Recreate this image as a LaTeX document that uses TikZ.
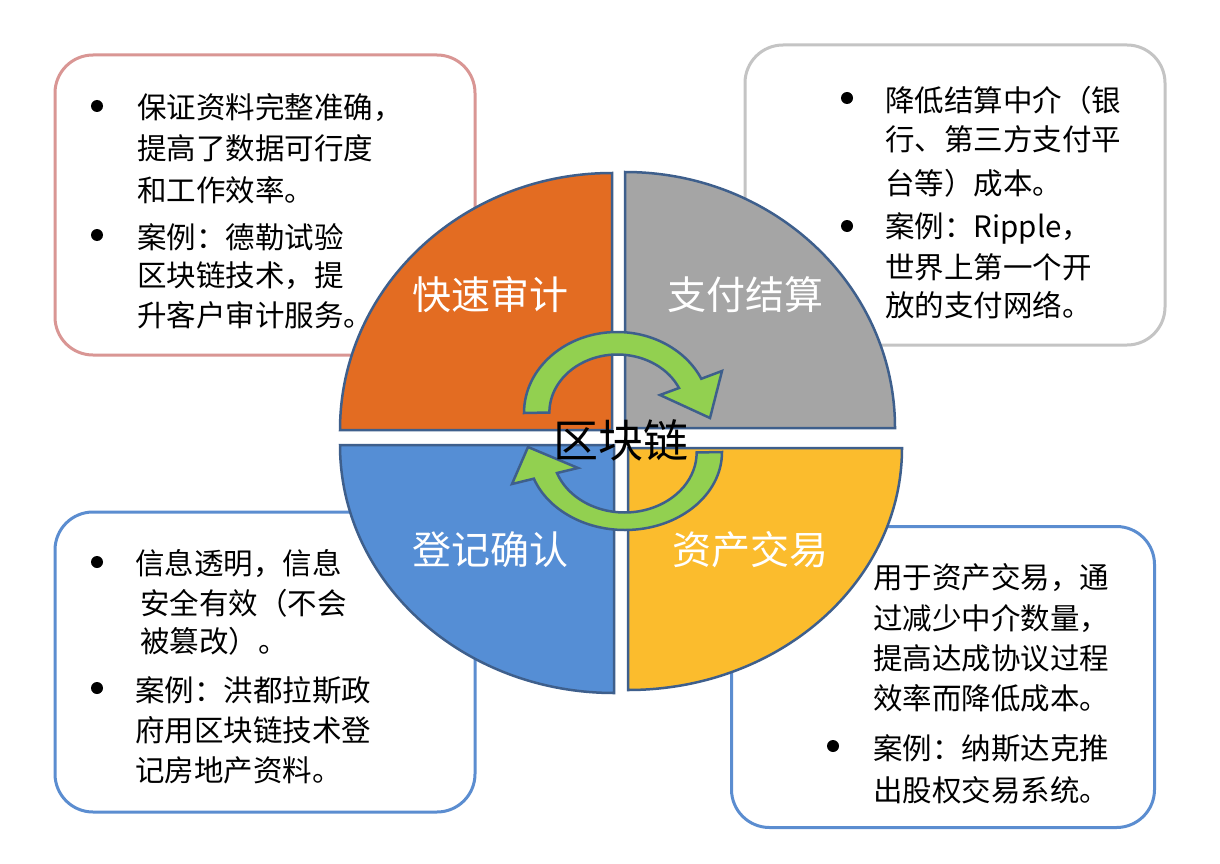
\documentclass[tikz,border=0pt]{standalone}
\usepackage{fontspec}
\setmainfont{Noto Sans CJK SC}
\begin{document}
\begin{tikzpicture}[x=1pt,y=1pt,
  box/.style={draw,line width=3pt,rounded corners=38pt,fill=white},
  quad/.style={draw=qline,line width=2.5pt},
  grn/.style={draw=qline,line width=2.5pt,fill=agreen},
  txt/.style={anchor=west,inner sep=0pt,font=\fontsize{29.5}{29.5}\selectfont},
  lab/.style={text=white,inner sep=0pt,font=\fontsize{39}{39}\selectfont},
  bul/.style={fill=black,circle,inner sep=0pt,minimum size=12pt}]
\definecolor{qline}{HTML}{3E5F8C}
\definecolor{agreen}{HTML}{92D050}
\definecolor{cor}{HTML}{E36C22}
\definecolor{cgr}{HTML}{A5A5A5}
\definecolor{cbl}{HTML}{558ED5}
\definecolor{cye}{HTML}{FBBC2D}
\definecolor{bpink}{HTML}{D99694}
\definecolor{bgray}{HTML}{C4C4C4}
\definecolor{bblue}{HTML}{5B8DD0}
\useasboundingbox (0,0) rectangle (1220,-864);
\fill[white] (0,0) rectangle (1220,-864);
% boxes
\node[box,draw=bpink,minimum width=420pt,minimum height=300pt] (b1) at (265,-205) {};
\node[box,draw=bgray,minimum width=420pt,minimum height=300pt] (b2) at (955,-195) {};
\node[box,draw=bblue,minimum width=420pt,minimum height=300pt] (b3) at (265,-662) {};
\node[box,draw=bblue,minimum width=423pt,minimum height=301pt] (b4) at (943,-677) {};
% quadrants
\draw[quad,fill=cor] (612,-430) -- (340,-430) arc[start angle=180,end angle=90,x radius=272,y radius=257] -- cycle;
\draw[quad,fill=cgr] (625,-428) -- (625,-172) arc[start angle=90,end angle=0,x radius=270,y radius=256] -- cycle;
\draw[quad,fill=cbl] (614,-445) -- (340,-445) arc[start angle=180,end angle=270,x radius=274,y radius=248] -- cycle;
\draw[quad,fill=cye] (628,-448) -- (902,-448) arc[start angle=0,end angle=-90,x radius=274,y radius=242] -- cycle;
% arrows
\draw[grn] (524,-413) arc[start angle=180,end angle=25,x radius=93,y radius=81] -- (722,-371) -- (710,-418) -- (660,-395) -- (679,-388) arc[start angle=25,end angle=180,x radius=68,y radius=58] -- cycle;
\draw[grn] (722,-452) arc[start angle=0,end angle=-160,x radius=97,y radius=78] -- (512,-484) -- (528,-447) -- (578,-468) -- (557,-473) arc[start angle=-160,end angle=0,x radius=72,y radius=60] -- cycle;
\node[inner sep=0pt,font=\fontsize{45}{45}\selectfont] (c) at (621,-440) {区块链};
% labels
\node[lab] (l1) at (490,-295) {快速审计};
\node[lab] (l2) at (745,-295) {支付结算};
\node[lab] (l3) at (490,-550) {登记确认};
\node[lab] (l4) at (750,-550) {资产交易};
% TL text
\node[bul] at (97,-106) {}; \node[bul] at (97,-235) {};
\node[txt] at (137,-108) {保证资料完整准确，};
\node[txt] at (137,-148) {提高了数据可行度};
\node[txt] at (137,-190) {和工作效率。};
\node[txt] at (137,-237) {案例：德勒试验};
\node[txt] at (137,-276) {区块链技术，提};
\node[txt] at (137,-315) {升客户审计服务。};
% TR text
\node[bul] at (847,-98) {}; \node[bul] at (847,-226) {};
\node[txt] at (885,-100) {降低结算中介（银};
\node[txt] at (885,-139) {行、第三方支付平};
\node[txt] at (885,-183) {台等）成本。};
\node[txt] at (885,-228) {案例：Ripple，};
\node[txt] at (885,-267) {世界上第一个开};
\node[txt] at (885,-305) {放的支付网络。};
% BL text
\node[bul] at (97,-562) {}; \node[bul] at (97,-688) {};
\node[txt] at (135,-564) {信息透明，信息};
\node[txt] at (140,-603) {安全有效（不会};
\node[txt] at (140,-641) {被篡改）。};
\node[txt] at (135,-690) {案例：洪都拉斯政};
\node[txt] at (135,-730) {府用区块链技术登};
\node[txt] at (135,-770) {记房地产资料。};
% BR text
\node[txt] at (873,-578) {用于资产交易，通};
\node[txt] at (873,-619) {过减少中介数量，};
\node[txt] at (873,-658) {提高达成协议过程};
\node[txt] at (873,-698) {效率而降低成本。};
\node[bul] at (833,-746) {};
\node[txt] at (873,-748) {案例：纳斯达克推};
\node[txt] at (873,-790) {出股权交易系统。};
\end{tikzpicture}
\end{document}
